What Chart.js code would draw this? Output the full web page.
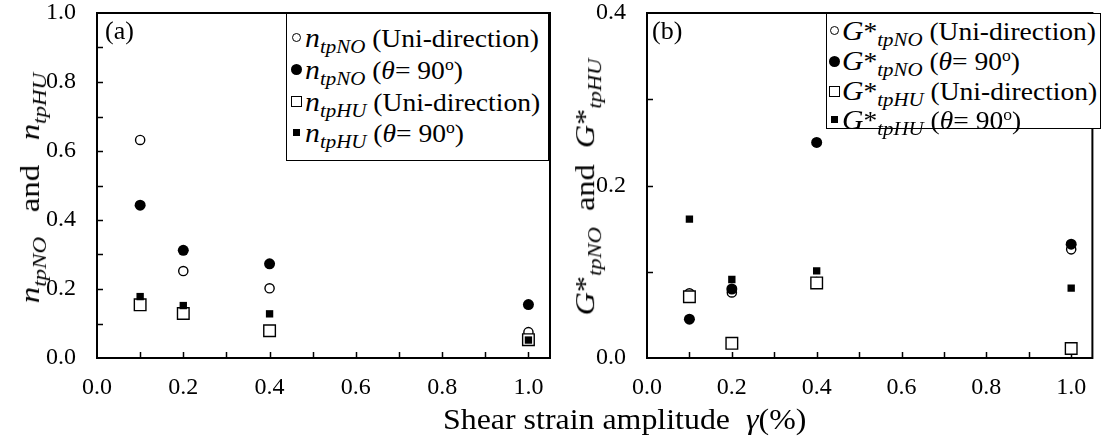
<!DOCTYPE html>
<html>
<head>
<meta charset="utf-8">
<script src="https://cdn.jsdelivr.net/npm/chart.js@4/dist/chart.umd.min.js"></script>
<style>
  body { margin: 0; background: #fff; }
  #wrap { position: relative; width: 1102px; height: 437px; font-family: "Liberation Serif", "Times New Roman", Times, serif; color: #000; }
  canvas { position: absolute; top: 0; }
  .legend { position: absolute; border: 1px solid #000; background: #fff; box-sizing: border-box; }
  .txt { position: absolute; white-space: nowrap; font-size: 25px; line-height: 30px; height: 30px; transform-origin: 0 50%; }
  .txt i.v { font-size: 27px; }
  .txt sub { font-size: 19px; vertical-align: -6px; line-height: 0; }
  .txt sup { font-size: 16px; vertical-align: 9px; line-height: 0; }
  .mk { position: absolute; box-sizing: border-box; }
  .oc { width: 9px; height: 9px; border: 1.3px solid #000; border-radius: 50%; }
  .fc { width: 11px; height: 11px; background: #000; border-radius: 50%; }
  .os { width: 11px; height: 11px; border: 1.3px solid #000; }
  .fs { width: 7px; height: 7px; background: #000; }
  .ytitle { position: absolute; white-space: nowrap; font-size: 30px; line-height: 32px; }
  .ytitle sub { font-size: 21px; vertical-align: -7px; line-height: 0; }
  .panel-tag { position: absolute; font-size: 26px; }
  .xtitle { position: absolute; font-size: 29px; white-space: nowrap; line-height: 32px; transform-origin: 0 50%; }
</style>
</head>
<body>
<div id="wrap">
  <canvas id="chartA" width="560" height="437" style="left:0"></canvas>
  <canvas id="chartB" width="542" height="437" style="left:560px"></canvas>

  <div class="panel-tag" style="left:105px;top:16px">(a)</div>
  <div class="panel-tag" style="left:652px;top:16px">(b)</div>

  <div class="legend" id="legA" style="left:286px;top:13px;width:263px;height:148px">
    <span class="mk oc" style="left:5px;top:19px"></span>
    <div class="txt" style="left:18px;top:9px"><i class="v">n</i><sub><i>tpNO</i></sub> (Uni-direction)</div>
    <span class="mk fc" style="left:4px;top:50px"></span>
    <div class="txt" style="left:18px;top:41px"><i class="v">n</i><sub><i>tpNO</i></sub> (<i>θ</i>= 90<sup>o</sup>)</div>
    <span class="mk os" style="left:4px;top:82px"></span>
    <div class="txt" style="left:18px;top:73px"><i class="v">n</i><sub><i>tpHU</i></sub> (Uni-direction)</div>
    <span class="mk fs" style="left:6px;top:115px"></span>
    <div class="txt" style="left:18px;top:104px"><i class="v">n</i><sub><i>tpHU</i></sub> (<i>θ</i>= 90<sup>o</sup>)</div>
  </div>

  <div class="legend" id="legB" style="left:826px;top:13px;width:275px;height:116px">
    <span class="mk oc" style="left:3px;top:12px"></span>
    <div class="txt" style="left:15px;top:2px"><i class="v">G</i>*<sub><i>tpNO</i></sub> (Uni-direction)</div>
    <span class="mk fc" style="left:2px;top:42px"></span>
    <div class="txt" style="left:15px;top:32px"><i class="v">G</i>*<sub><i>tpNO</i></sub> (<i>θ</i>= 90<sup>o</sup>)</div>
    <span class="mk os" style="left:2px;top:72px"></span>
    <div class="txt" style="left:15px;top:62px"><i class="v">G</i>*<sub><i>tpHU</i></sub> (Uni-direction)</div>
    <span class="mk fs" style="left:4px;top:102px"></span>
    <div class="txt" style="left:15px;top:91px"><i class="v">G</i>*<sub><i>tpHU</i></sub> (<i>θ</i>= 90<sup>o</sup>)</div>
  </div>

  <div class="ytitle" id="ytA"><i>n</i><sub><i>tpNO</i></sub>&nbsp;&nbsp; and &nbsp;&nbsp;<i>n</i><sub><i>tpHU</i></sub></div>
  <div class="ytitle" id="ytB"><i>G</i>*<sub><i>tpNO</i></sub>&nbsp; and &nbsp;<i>G</i>*<sub><i>tpHU</i></sub></div>

  <div class="xtitle" id="xt" style="left:443px;top:403px">Shear strain amplitude&nbsp; <i>γ</i>(%)</div>
</div>

<script>
// strain amplitudes (%)
const strainLevels = [0.1, 0.2, 0.4, 1.0];

// panel (a): n_tp values
const nNoUni = [0.632, 0.252, 0.202, 0.075];
const nNo90 = [0.443, 0.312, 0.273, 0.155];
const nHuUni = [0.154, 0.129, 0.079, 0.053];
const nHu90 = [0.178, 0.152, 0.128, 0.052];

// panel (b): G*_tp values
const gNoUni = [0.075, 0.076, 0.088, 0.126];
const gNo90 = [0.045, 0.080, 0.250, 0.132];
const gHuUni = [0.071, 0.017, 0.087, 0.011];
const gHu90 = [0.161, 0.091, 0.101, 0.081];

// axis ranges / labelled ticks
const xMax = 1.05;
const xLabels = [0.0, 0.2, 0.4, 0.6, 0.8, 1.0];
const yLabelsA = [0.0, 0.2, 0.4, 0.6, 0.8, 1.0];
const yLabelsB = [0.0, 0.2, 0.4];

const FONT = '"Liberation Serif", "Times New Roman", Times, serif';

function pts(vals) {
  return strainLevels.map((x, i) => ({ x: x, y: vals[i] }));
}

function makeSets(oc, fc, os, fs) {
  // order: lower number drawn on top
  return [
    { data: pts(oc), pointStyle: 'circle', pointRadius: 4.6, backgroundColor: '#fff', borderColor: '#000', pointBorderWidth: 1.4, order: 4 },
    { data: pts(fc), pointStyle: 'circle', pointRadius: 5.5, backgroundColor: '#000', borderColor: '#000', pointBorderWidth: 0, order: 3 },
    { data: pts(os), pointStyle: 'rect', pointRadius: 8.2, backgroundColor: '#fff', borderColor: '#000', pointBorderWidth: 1.4, order: 2 },
    { data: pts(fs), pointStyle: 'rect', pointRadius: 5.2, backgroundColor: '#000', borderColor: '#000', pointBorderWidth: 0, order: 1 }
  ];
}

function isLabelled(list, v) {
  return list.some(l => Math.abs(l - v) < 1e-6);
}

// frame + inward tick marks
const frameTicks = {
  id: 'frameTicks',
  beforeDatasetsDraw(chart) {
    const ctx = chart.ctx;
    const a = chart.chartArea;
    const x = chart.scales.x;
    const y = chart.scales.y;
    ctx.save();
    ctx.strokeStyle = '#000';
    ctx.lineWidth = 1.5;
    ctx.beginPath();
    x.ticks.forEach(t => {
      if (t.value > 0.001 && t.value < 1.001) {
        const px = Math.round(x.getPixelForValue(t.value)) + 0.5;
        ctx.moveTo(px, a.bottom);
        ctx.lineTo(px, a.bottom - 6);
      }
    });
    y.ticks.forEach(t => {
      if (t.value > 0.001 && t.value < y.max - 0.001) {
        const py = Math.round(y.getPixelForValue(t.value)) + 0.5;
        ctx.moveTo(a.left, py);
        ctx.lineTo(a.left + 6, py);
      }
    });
    ctx.stroke();
    ctx.lineWidth = 2;
    ctx.strokeRect(a.left, a.top, a.right - a.left, a.bottom - a.top);
    ctx.restore();
  }
};

function makeChart(id, sets, yMax, yLabels, yWidth, padRight) {
  return new Chart(document.getElementById(id), {
    type: 'scatter',
    data: { datasets: sets },
    options: {
      responsive: false,
      animation: false,
      events: [],
      layout: { padding: { left: 0, top: 13, right: padRight, bottom: 39 } },
      plugins: { legend: { display: false }, tooltip: { enabled: false } },
      scales: {
        x: {
          type: 'linear', min: 0, max: xMax,
          grid: { display: false, drawTicks: false },
          border: { display: false },
          afterFit: s => { s.height = 40; s.paddingLeft = 0; s.paddingRight = 0; },
          ticks: {
            stepSize: 0.1, autoSkip: false, includeBounds: false, maxRotation: 0, padding: 15,
            color: '#000', font: { family: FONT, size: 24 },
            callback: v => isLabelled(xLabels, v) ? v.toFixed(1) : ''
          }
        },
        y: {
          type: 'linear', min: 0, max: yMax,
          grid: { display: false, drawTicks: false },
          border: { display: false },
          afterFit: s => { s.width = yWidth; s.paddingTop = 0; s.paddingBottom = 0; },
          ticks: {
            stepSize: 0.1, autoSkip: false, padding: 21,
            color: '#000', font: { family: FONT, size: 24 },
            callback: v => isLabelled(yLabels, v) ? v.toFixed(1) : ''
          }
        }
      }
    },
    plugins: [frameTicks]
  });
}

makeChart('chartA', makeSets(nNoUni, nNo90, nHuUni, nHu90), 1.0, yLabelsA, 97, 10);
makeChart('chartB', makeSets(gNoUni, gNo90, gHuUni, gHu90), 0.4, yLabelsB, 87, 2);

// squeeze the html texts to the widths of the original figure
function fitLegend(id, rightEdge) {
  const box = document.getElementById(id);
  const rows = box.querySelectorAll('.txt');
  const r0 = rows[0].getBoundingClientRect();
  const k = (rightEdge - r0.left) / r0.width;
  rows.forEach(r => { r.style.transform = 'scaleX(' + k + ')'; });
}
fitLegend('legA', 539);
fitLegend('legB', 1096);

function placeYTitle(id, cx, top, bottom, thick) {
  const el = document.getElementById(id);
  const w = el.offsetWidth;
  const h = el.offsetHeight;
  const k = (bottom - top) / w;
  el.style.left = (cx - w / 2) + 'px';
  el.style.top = ((top + bottom) / 2 - h / 2) + 'px';
  el.style.transform = 'rotate(-90deg) scale(' + k + ',' + thick + ')';
}
placeYTitle('ytA', 30, 72, 303, 0.9);
placeYTitle('ytB', 585, 58, 315, 0.9);

const xt = document.getElementById('xt');
xt.style.transform = 'scaleX(' + ((806 - 443) / xt.offsetWidth) + ')';
</script>
</body>
</html>
